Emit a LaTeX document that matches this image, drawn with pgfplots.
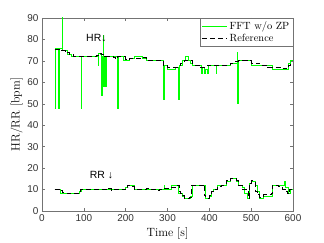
\documentclass[border=0pt]{standalone}
\usepackage{pgfplots}
\pgfplotsset{compat=1.18}
\usepackage{fontspec}
\newfontfamily\hel{Liberation Sans}
\definecolor{axgray}{gray}{0.45}
\begin{document}
\begin{tikzpicture}
\begin{axis}[
  scale only axis, width=251bp, height=193bp,
  xmin=0, xmax=600, ymin=0, ymax=90,
  xtick={0,100,...,600}, ytick={0,10,...,90},
  tick align=inside, tick pos=both,
  major tick length=3bp,
  axis line style={axgray, line width=0.5pt},
  every tick/.style={axgray, line width=0.5pt},
  tick label style={font=\hel\fontsize{10}{12}\selectfont, text=black!80},
  /pgf/number format/assume math mode=true,
  label style={font=\fontsize{12}{14}\selectfont},
  xlabel={Time [s]}, ylabel={HR/RR [bpm]},
  xlabel style={yshift=1bp},
  ylabel style={yshift=-2bp},
  clip=true,
  legend cell align=left,
  legend style={at={(1,1)}, anchor=north east, draw=axgray, line width=0.5pt,
    font=\fontsize{10.5}{12}\selectfont, inner sep=1.5pt, row sep=-1pt},
  legend image code/.code={\draw[#1] (0bp,0bp) -- (25bp,0bp);},
]
\addplot[const plot, color=green, line width=0.9pt] coordinates {
(30,48)(31,76)(40,48)(41,76)(48,95)(50,75)(55,75)(60,73)(70,72)(94,48)(95,72)
(134,68)(135,73.5)(140,73)(143,54)(144,72)(146,82)(147,58)(149,72)(152,58)(153,72)
(160,72)(180,48)(183,72)(190,72)(195,70)(210,71)(220,72)(230,72)(240,71)(250,70)
(291,52)(292,68)(300,66)(310,66)(320,67)(327,52)(328,68)(335,70)(340,70)(344,72)
(350,70)(355,69)(360,68)(380,64)(383,67)(388,64)(390,66)(395,64)(397,68)(416,64)
(417,68)(440,68)(450,69)(467,74)(468,50)(469,69)(470,70)(490,70)(500,68)(540,68)
(550,66)(560,66)(585,66)(590,69)(595,70)(600,70)};
\addlegendentry{FFT w/o ZP}
\addplot[const plot, color=black, line width=1pt, dashed, dash pattern=on 5bp off 3bp] coordinates {
(30,75.5)(45,75)(55,74)(65,73)(75,72)(130,72.5)(135,73.5)(142,73)(150,72)(170,71.5)
(175,71)(180,72)(200,70.5)(210,71)(225,71)(240,71.5)(250,70)(265,70)(290,68)(300,67)
(320,67)(330,69)(340,70)(350,70)(360,68)(380,67)(395,68)(430,68)(450,69)(460,69.5)
(470,70)(490,70)(500,69)(520,68)(540,67)(550,67)(570,66.5)(585,67)(590,68)(595,69)(600,69)};
\addlegendentry{Reference}
\addplot[const plot, color=green, line width=0.9pt, forget plot] coordinates {
(30,10)(45,8)(55,8)(90,9)(95,10)(160,10)(170,10)(200,11)(205,12)(215,12)(220,10)
(290,10)(292,12)(293,10)(310,12)(325,12)(327,8)(330,8)(335,7)(340,6)(355,7)(360,12)
(385,12)(390,6)(400,7)(405,9)(410,10)(420,12)(440,14)(450,15)(465,14)(470,12)(480,11)
(485,8)(490,6)(495,13)(500,14)(510,12)(515,9)(520,6)(530,7)(550,12)(578,12)(580,14)
(581,11)(590,8)(595,10)(600,10)};
\addplot[const plot, color=black, line width=1pt, dashed, dash pattern=on 5bp off 3bp, forget plot] coordinates {
(30,10)(45,9.5)(50,8.5)(60,8)(90,8)(93,10)(160,10.5)(165,9.5)(170,10)(200,11)(205,12)
(215,11.5)(220,10)(250,10.5)(255,10)(275,9.5)(280,10)(290,10.5)(300,10.5)(310,11)
(320,12)(328,9)(332,8)(335,7)(340,6)(352,6.5)(358,12)(385,12.5)(388,7)(392,6)(400,7)
(405,9)(410,10)(420,11.5)(430,12)(440,14)(450,15)(465,14)(470,12)(480,10)(490,10)
(493,6)(496,13)(500,14)(505,13.5)(510,9)(515,7.5)(520,6.5)(530,7.5)(548,8)(550,12)
(565,11.5)(570,11)(575,10)(580,10)(585,9)(588,8)(592,10)(600,9)};
\node[font=\hel\fontsize{10.5}{12}\selectfont] at (axis cs:130,80.5) {HR↓};
\node[font=\hel\fontsize{10.5}{12}\selectfont] at (axis cs:142,16.8) {RR ↓};
\coordinate (ll) at (rel axis cs:0,0);
\coordinate (ur) at (rel axis cs:1,1);
\end{axis}
\pgfresetboundingbox
\path[use as bounding box] ([xshift=-42bp,yshift=-32bp]ll) rectangle ([xshift=31bp,yshift=18bp]ur);
\end{tikzpicture}
\end{document}
